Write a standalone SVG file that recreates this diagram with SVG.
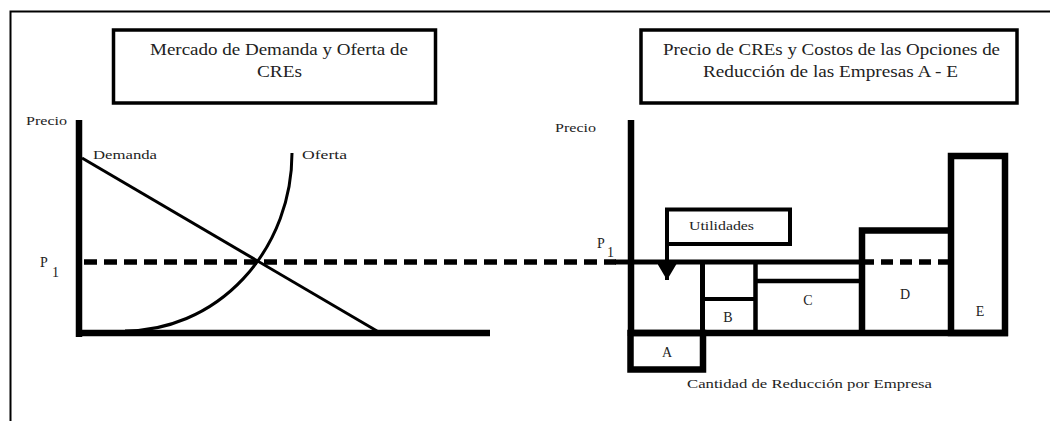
<svg xmlns="http://www.w3.org/2000/svg" width="1050" height="421" viewBox="0 0 1050 421" font-family="'Liberation Serif', 'DejaVu Serif', serif">
<defs>
<style>
text{font-family:'Liberation Serif','DejaVu Serif',serif;fill:#222}
.title{font-size:16px}
.lbl{font-size:13px}
.firm{font-size:14px;text-anchor:middle}
.box{fill:#fff;stroke:#000;stroke-width:3.5}
.ax{stroke:#000;stroke-width:6.5;fill:none}
.thick{stroke:#000;stroke-width:5;fill:none}
.dash{stroke:#000;stroke-width:5.5;fill:none;stroke-dasharray:13 7}
</style>
<marker id="tri" viewBox="0 0 16 19" refX="16" refY="9.5" markerWidth="16" markerHeight="19" markerUnits="userSpaceOnUse" orient="auto">
<path d="M0,0 L16,9.5 L0,19 z" fill="#000"/>
</marker>
</defs>
<rect width="1050" height="421" fill="#fff"/>
<path d="M10.5,421 V11.5 H1050" fill="none" stroke="#000" stroke-width="2"/>

<g id="left-title">
<rect class="box" x="113.5" y="30" width="322" height="73"/>
<text class="title" x="279" y="55" text-anchor="middle" textLength="258" lengthAdjust="spacingAndGlyphs">Mercado de Demanda y Oferta de</text>
<text class="title" x="279.5" y="77" text-anchor="middle" textLength="45" lengthAdjust="spacingAndGlyphs">CREs</text>
</g>

<g id="right-title">
<rect class="box" x="641" y="30" width="376" height="73"/>
<text class="title" x="831.5" y="55" text-anchor="middle" textLength="337" lengthAdjust="spacingAndGlyphs">Precio de CREs y Costos de las Opciones de</text>
<text class="title" x="830.5" y="77" text-anchor="middle" textLength="255" lengthAdjust="spacingAndGlyphs">Reducción de las Empresas A - E</text>
</g>

<g id="left-chart">
<line class="ax" x1="79" y1="120" x2="79" y2="337"/>
<line class="ax" x1="76" y1="333" x2="490" y2="333"/>
<text class="lbl" x="26" y="125" textLength="41" lengthAdjust="spacingAndGlyphs">Precio</text>
<text style="font-size:14px" x="40" y="267">P</text>
<text style="font-size:14px" x="52" y="277">1</text>
</g>

<g id="demanda">
<line x1="82" y1="158" x2="377" y2="331" stroke="#000" stroke-width="3"/>
<text class="lbl" x="93" y="159" textLength="64" lengthAdjust="spacingAndGlyphs">Demanda</text>
</g>

<g id="oferta">
<path d="M125,331 A167,178 0 0 0 292,153" fill="none" stroke="#000" stroke-width="3"/>
<text class="lbl" x="302" y="159" textLength="45" lengthAdjust="spacingAndGlyphs">Oferta</text>
</g>

<g id="p1-line">
<line class="dash" x1="84" y1="262" x2="616" y2="262"/>
<line class="thick" x1="615" y1="262" x2="862" y2="262"/>
<line x1="862" y1="262" x2="951" y2="262" stroke="#000" stroke-width="5.5" stroke-dasharray="12 7"/>
</g>

<g id="right-chart">
<line class="ax" x1="631" y1="120" x2="631" y2="336"/>
<line class="ax" x1="628" y1="333" x2="1008" y2="333"/>
<text class="lbl" x="555" y="132" textLength="41" lengthAdjust="spacingAndGlyphs">Precio</text>
<text style="font-size:14px" x="597" y="248">P</text>
<text style="font-size:14px" x="607" y="257">1</text>
<text class="lbl" x="687" y="388" textLength="245" lengthAdjust="spacingAndGlyphs">Cantidad de Reducción por Empresa</text>
</g>

<g id="firm-a">
<rect x="630.5" y="333" width="72.5" height="36.5" fill="none" stroke="#000" stroke-width="6.5"/>
<line class="thick" x1="702.5" y1="262" x2="702.5" y2="333"/>
<text class="firm" x="667" y="357">A</text>
</g>

<g id="firm-b">
<line x1="702" y1="299" x2="756" y2="299" stroke="#000" stroke-width="4"/>
<text class="firm" x="728" y="322">B</text>
</g>

<g id="firm-c">
<line x1="755.5" y1="262" x2="755.5" y2="333" stroke="#000" stroke-width="4.5"/>
<line x1="755" y1="281" x2="862" y2="281" stroke="#000" stroke-width="4.5"/>
<text class="firm" x="808" y="305">C</text>
</g>

<g id="firm-d">
<path d="M862,333 V230.5 H951" fill="none" stroke="#000" stroke-width="6.5"/>
<text class="firm" x="905" y="299">D</text>
</g>

<g id="firm-e">
<rect x="951" y="156" width="54" height="177" fill="none" stroke="#000" stroke-width="6.5"/>
<text class="firm" x="980" y="316">E</text>
</g>

<g id="utilidades">
<rect x="667" y="209.5" width="123" height="34.5" fill="#fff" stroke="#000" stroke-width="4"/>
<text class="lbl" x="689" y="230" textLength="65" lengthAdjust="spacingAndGlyphs">Utilidades</text>
</g>

<g id="connectors">
<line x1="667" y1="244" x2="667" y2="280" stroke="#000" stroke-width="4" marker-end="url(#tri)"/>
</g>
</svg>
